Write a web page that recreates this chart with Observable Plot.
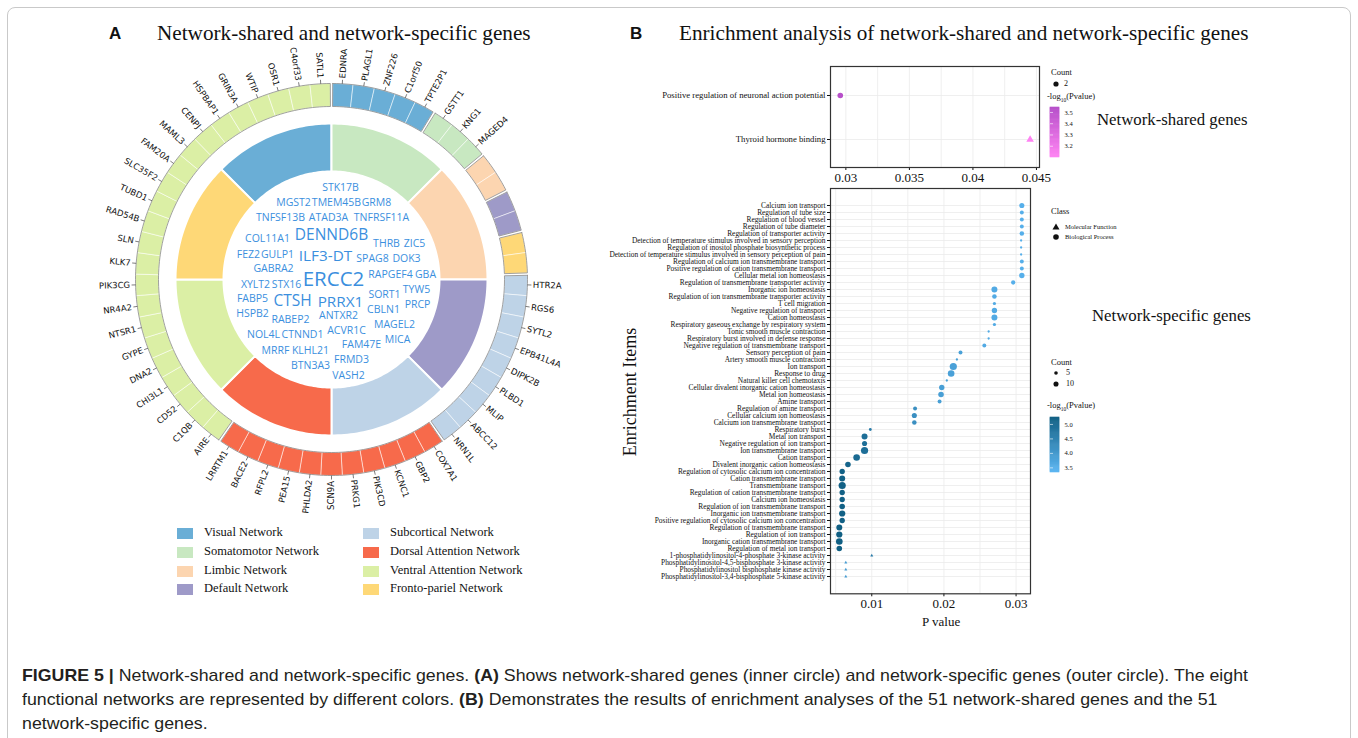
<!DOCTYPE html>
<html><head><meta charset="utf-8">
<script src="https://cdn.jsdelivr.net/npm/d3@7"></script>
<script src="https://cdn.jsdelivr.net/npm/@observablehq/plot@0.6"></script>
<style>
body{margin:0;background:#fff;width:1358px;height:738px;overflow:hidden;position:relative;font-family:"Liberation Serif",serif;color:#111}
.abs{position:absolute;white-space:nowrap}
.serif{font-family:"Liberation Serif",serif}
.cap span.l{display:block;transform-origin:0 50%;white-space:nowrap}
</style></head><body>
<div class="abs" style="left:7px;top:7px;width:1342px;height:760px;border:1px solid #c9c9c9;border-radius:8px"></div>
<div class="abs" style="left:109px;top:24px;font:bold 17px 'Liberation Sans',sans-serif">A</div>
<div class="abs serif" style="left:157px;top:21px;font-size:21.2px">Network-shared and network-specific genes</div>
<div class="abs" style="left:630px;top:24px;font:bold 17px 'Liberation Sans',sans-serif">B</div>
<div class="abs serif" style="left:679px;top:21px;font-size:21.2px">Enrichment analysis of network-shared and network-specific genes</div>
<div id="legA"></div>
<div id="legB"></div>
<div class="abs cap" id="cap" style="left:22px;top:664px;font:17px 'Liberation Sans',sans-serif;line-height:24px;color:#231f20">
<span class="l"><b>FIGURE 5 |</b> Network-shared and network-specific genes. <b>(A)</b> Shows network-shared genes (inner circle) and network-specific genes (outer circle). The eight</span>
<span class="l">functional networks are represented by different colors. <b>(B)</b> Demonstrates the results of enrichment analyses of the 51 network-shared genes and the 51</span>
<span class="l">network-specific genes.</span>
</div>
<script>
// ---------------- DATA ----------------
const networkNames = ["Visual Network","Somatomotor Network","Limbic Network","Default Network","Subcortical Network","Dorsal Attention Network","Ventral Attention Network","Fronto-pariel Network"];
const networkColors = ["#6aaed6","#c8e8c1","#fcd5b0","#9e9ac8","#bed3e7","#f76a4b","#dbefa5","#fed877"];
const legendOrder = ["Visual Network","Somatomotor Network","Limbic Network","Default Network","Subcortical Network","Dorsal Attention Network","Ventral Attention Network","Fronto-pariel Network"];

// inner ring (network-shared): one equal sector per network, clockwise
const innerOrder = ["Visual Network","Somatomotor Network","Limbic Network","Default Network","Subcortical Network","Dorsal Attention Network","Ventral Attention Network","Fronto-pariel Network"];

// outer ring (network-specific genes), clockwise from top
const outerOrder = ["Visual Network","Somatomotor Network","Limbic Network","Default Network","Fronto-pariel Network","Subcortical Network","Dorsal Attention Network","Ventral Attention Network"];
const outerCellCounts = [5,3,2,2,2,9,11,23];
const visualGenes = ["EDNRA","PLAGL1","ZNF226","C1orf50","TPTE2P1"];
const somatomotorGenes = ["GSTT1","KNG1","MAGED4"];
const limbicGenes = ["",""];
const defaultGenes = ["",""];
const frontoGenes = ["",""];
const subcorticalGenes = ["HTR2A","RGS6","SYTL2","EPB41L4A","DIPK2B","PLBD1","MLIP","ABCC12","NRN1L"];
const dorsalGenes = ["COX7A1","GBP2","KCNC1","PIK3CD","PRKG1","SCN9A","PHLDA2","PEA15","RFPL2","BACE2","LRRTM1"];
const ventralGenes = ["AIRE","C1QB","CD52","CHI3L1","DNA2","GYPE","NTSR1","NR4A2","PIK3CG","KLK7","SLN","RAD54B","TUBD1","SLC35F2","FAM20A","MAML3","CENPJ","HSPBAP1","GRIN3A","WTIP","OSR1","C4orf33","SATL1"];
const outerGenes = [visualGenes,somatomotorGenes,limbicGenes,defaultGenes,frontoGenes,subcorticalGenes,dorsalGenes,ventralGenes];

// word cloud of network-shared genes (weight = emphasis)
const cloudWords = ["STK17B","MGST2","TMEM45B","GRM8","TNFSF13B","ATAD3A","TNFRSF11A","COL11A1","DENND6B","THRB","ZIC5","FEZ2","GULP1","ILF3-DT","SPAG8","DOK3","GABRA2","ERCC2","RAPGEF4","GBA","XYLT2","STX16","TYW5","FABP5","CTSH","PRRX1","SORT1","PRCP","HSPB2","RABEP2","ANTXR2","CBLN1","MAGEL2","NOL4L","CTNND1","ACVR1C","MICA","FAM47E","MRRF","KLHL21","BTN3A3","FRMD3","VASH2"];
const cloudWeights = [1,1,1,1,1,1,1,1,3,1,1,1,1,2,1,1,1,5,1,1,1,1,1,1,3,2,1,1,1,1,1,1,1,1,1,1,1,1,1,1,1,1,1];

// panel B, network-shared enrichment
const sharedTerms = ["Positive regulation of neuronal action potential","Thyroid hormone binding"];
const sharedP = [0.02956,0.0445];
const sharedCount = [2,2];
const sharedLogP = [3.54,3.1];
const sharedClass = ["Biological Process","Molecular Function"];

// panel B, network-specific enrichment
const specificTerms = ["Calcium ion transport","Regulation of tube size","Regulation of blood vessel","Regulation of tube diameter","Regulation of transporter activity","Detection of temperature stimulus involved in sensory perception","Regulation of inositol phosphate biosynthetic process","Detection of temperature stimulus involved in sensory perception of pain","Regulation of calcium ion transmembrane transport","Positive regulation of cation transmembrane transport","Cellular metal ion homeostasis","Regulation of transmembrane transporter activity","Inorganic ion homeostasis","Regulation of ion transmembrane transporter activity","T cell migration","Negative regulation of transport","Cation homeostasis","Respiratory gaseous exchange by respiratory system","Tonic smooth muscle contraction","Respiratory burst involved in defense response","Negative regulation of transmembrane transport","Sensory perception of pain","Artery smooth muscle contraction","Ion transport","Response to drug","Natural killer cell chemotaxis","Cellular divalent inorganic cation homeostasis","Metal ion homeostasis","Amine transport","Regulation of amine transport","Cellular calcium ion homeostasis","Calcium ion transmembrane transport","Respiratory burst","Metal ion transport","Negative regulation of ion transport","Ion transmembrane transport","Cation transport","Divalent inorganic cation homeostasis","Regulation of cytosolic calcium ion concentration","Cation transmembrane transport","Transmembrane transport","Regulation of cation transmembrane transport","Calcium ion homeostasis","Regulation of ion transmembrane transport","Inorganic ion transmembrane transport","Positive regulation of cytosolic calcium ion concentration","Regulation of transmembrane transport","Regulation of ion transport","Inorganic cation transmembrane transport","Regulation of metal ion transport","1-phosphatidylinositol-4-phosphate 3-kinase activity","Phosphatidylinositol-4,5-bisphosphate 3-kinase activity","Phosphatidylinositol bisphosphate kinase activity","Phosphatidylinositol-3,4-bisphosphate 5-kinase activity"];
const specificP = [0.0308,0.0308,0.0308,0.0308,0.0308,0.0307,0.0307,0.0307,0.0308,0.0308,0.0308,0.0296,0.0270,0.0270,0.0270,0.0270,0.0270,0.0270,0.0262,0.0262,0.0256,0.0223,0.0218,0.0213,0.0210,0.0204,0.0197,0.0196,0.0194,0.0160,0.0159,0.0159,0.0098,0.0090,0.0090,0.0090,0.0079,0.0067,0.0059,0.0059,0.0059,0.0059,0.0059,0.0059,0.0059,0.0059,0.0055,0.0055,0.0055,0.0055,0.0100,0.0064,0.0064,0.0064];
const specificCount = [10,6,6,6,8,2,2,2,6,6,11,7,14,8,4,11,14,4,2,2,6,6,2,20,17,2,11,12,6,6,10,8,3,14,10,20,17,12,11,14,20,11,11,12,15,11,14,15,17,12,2,2,2,2];
const specificLogP = [3.5,3.5,3.5,3.5,3.5,3.5,3.5,3.5,3.5,3.5,3.5,3.5,3.6,3.6,3.6,3.6,3.6,3.6,3.6,3.6,3.6,3.8,3.8,3.8,3.8,3.8,3.85,3.85,3.85,4.2,4.2,4.2,4.6,4.9,4.9,4.9,5.0,5.1,5.2,5.2,5.2,5.2,5.2,5.2,5.2,5.2,5.25,5.25,5.25,5.25,4.6,3.9,3.9,3.9];
const specificClass = specificTerms.map((t,i)=> i>=50 ? "Molecular Function" : "Biological Process");

// ---------------- LAYOUT (not data) ----------------
const R_IN0=108, R_IN1=156, R_OUT0=173, R_OUT1=196;
const cloudLayout = [[9,-92],[-38,-77],[5,-77],[45,-77],[-51,-62],[-3,-62],[50,-62],[-64,-41],[0,-44.5],[55,-36],[83,-36],[-83,-25],[-54,-25],[-6,-23.5],[41,-21],[75,-21],[-58,-11],[2,-0.5],[59,-5],[94,-5],[-76,5],[-45,5],[85,10],[-79,19],[-39,22],[9,22.5],[53,15],[86,25],[-79,34],[-41,40],[7,36.5],[52,30],[63,45],[-68,55],[-29,55],[15,51],[66,60],[30,65],[-56,71],[-21,71],[-21,86],[20,80],[17,96]];
const weightSize = {1:10.5, 2:15.3, 3:15.5, 5:20.5};

// ---------------- GEOMETRY ----------------
const rad = a => a*Math.PI/180;
const pt = (a,r) => [r*Math.sin(rad(a)), -r*Math.cos(rad(a))];
function arcPoly(a0,a1,r0,r1,id,net){
  const n = Math.max(2, Math.ceil((a1-a0)/1.2)); const p=[];
  for(let i=0;i<=n;i++) p.push(pt(a0+(a1-a0)*i/n, r1));
  for(let i=n;i>=0;i--) p.push(pt(a0+(a1-a0)*i/n, r0));
  p.push(p[0]);
  return p.map(([x,y])=>({x,y,id,net}));
}
const innerPts = innerOrder.flatMap((net,i)=>arcPoly(-45+i*45,-45+(i+1)*45,R_IN0,R_IN1,"in"+i,net));
const totalCells = d3.sum(outerCellCounts);
const cellA = 360/totalCells;
const outerPts=[], blockPts=[], labelData=[];
let c=0;
outerOrder.forEach((net,k)=>{
  const n=outerCellCounts[k];
  const b0=c*cellA+0.35, b1=(c+n)*cellA-0.35;
  blockPts.push(...arcPoly(b0,b1,R_OUT0,R_OUT1,"b"+k,net));
  for(let j=0;j<n;j++){
    const a0=Math.max(b0,(c+j)*cellA), a1=Math.min(b1,(c+j+1)*cellA);
    outerPts.push(...arcPoly(a0,a1,R_OUT0,R_OUT1,"c"+k+"_"+j,net));
    const g=outerGenes[k][j];
    if(g){
      const a=(c+j+0.5)*cellA;
      const [x1,y1]=pt(a,R_OUT1), [x2,y2]=pt(a,R_OUT1+4), [tx,ty]=pt(a,R_OUT1+5.5);
      const right = a<180;
      labelData.push({gene:g,x1,y1,x2,y2,tx,ty,right,rot: right ? a-90 : a-270});
    }
  }
  c+=n;
});
const cloud = cloudWords.map((w,i)=>({word:w,x:cloudLayout[i][0],y:cloudLayout[i][1],size:weightSize[cloudWeights[i]]}));

function place(el,left,top){const d=document.createElement("div");d.className="abs";d.style.left=left+"px";d.style.top=top+"px";d.appendChild(el);document.body.appendChild(d);return d;}

// ---------------- PANEL A ----------------
const A = Plot.plot({
  width:540,height:540,margin:0,
  x:{domain:[-270,270],axis:null},
  y:{domain:[270,-270],axis:null},
  color:{domain:networkNames,range:networkColors},
  style:{background:"transparent",overflow:"visible"},
  marks:[
    Plot.line(innerPts,{x:"x",y:"y",z:"id",fill:"net",stroke:"white",strokeWidth:2}),
    Plot.line(outerPts,{x:"x",y:"y",z:"id",fill:"net",stroke:"white",strokeWidth:0.7,strokeOpacity:0.75}),
    Plot.line(blockPts,{x:"x",y:"y",z:"id",stroke:"#8a8a8a",strokeWidth:0.8}),
    Plot.link(labelData,{x1:"x1",y1:"y1",x2:"x2",y2:"y2",stroke:"#444",strokeWidth:0.7}),
    Plot.text(labelData.filter(d=>d.right),{x:"tx",y:"ty",text:"gene",rotate:"rot",textAnchor:"start",fontSize:8.5,fontFamily:"DejaVu Sans",fill:"#111"}),
    Plot.text(labelData.filter(d=>!d.right),{x:"tx",y:"ty",text:"gene",rotate:"rot",textAnchor:"end",fontSize:8.5,fontFamily:"DejaVu Sans",fill:"#111"}),
    Plot.text(cloud,{x:"x",y:"y",text:"word",fontSize:"size",fill:"#3b8fde",fontFamily:"Open Sans"})
  ]
});
place(A,61,9);

// legend A
const legA=document.getElementById("legA");
legendOrder.forEach((n,i)=>{
  const col=i<4?0:1, row=i%4;
  const left=col?363:177, top=528+row*18.8;
  legA.insertAdjacentHTML("beforeend",`<div class="abs" style="left:${left}px;top:${top}px;width:16px;height:11px;background:${networkColors[networkNames.indexOf(n)]}"></div><div class="abs serif" style="left:${left+27}px;top:${top-3}px;font-size:12.5px">${n}</div>`);
});

// ---------------- PANEL B ----------------
const serifStyle = fs => ({background:"transparent",overflow:"visible",fontFamily:"Liberation Serif",fontSize:fs,color:"#111"});
const sharedRows = sharedTerms.map((t,i)=>({term:t,p:sharedP[i],count:sharedCount[i],logp:sharedLogP[i],cls:sharedClass[i]}));
const B1 = Plot.plot({
  width:410,height:135,marginLeft:190,marginRight:11,marginTop:10,marginBottom:24,
  x:{domain:[0.02879,0.04524],ticks:[0.03,0.035,0.04,0.045],tickFormat:d=>String(+d.toFixed(3)),tickSize:3,tickPadding:2,label:null},
  y:{type:"point",domain:sharedTerms,padding:0.63,tickSize:3,tickPadding:2,label:null},
  color:{type:"linear",domain:[3.1,3.544],range:["#ff82f3","#b64fc9"]},
  r:{type:"sqrt",domain:[0,2],range:[0,2.8]},
  symbol:{domain:["Molecular Function","Biological Process"],range:["triangle","circle"]},
  style:serifStyle("8.7px"),
  marks:[
    Plot.ruleX([0.03,0.0325,0.035,0.0375,0.04,0.0425,0.045],{stroke:"#ebebeb",strokeWidth:0.8}),
    Plot.ruleY(sharedTerms,{stroke:"#ebebeb",strokeWidth:0.8}),
    Plot.dot(sharedRows,{x:"p",y:"term",r:"count",fill:"logp",symbol:"cls",stroke:null}),
    Plot.frame({stroke:"#333",strokeWidth:1.2})
  ]
});
place(B1,640,56);

const specRows = specificTerms.map((t,i)=>({term:t,p:specificP[i],count:specificCount[i],logp:specificLogP[i],cls:specificClass[i]}));
const B2 = Plot.plot({
  width:440,height:436,marginLeft:230,marginRight:10,marginTop:10,marginBottom:20.7,
  x:{domain:[0.00428,0.0320],ticks:[0.01,0.02,0.03],tickFormat:d=>String(+d.toFixed(2)),tickSize:3,tickPadding:2,label:null},
  y:{type:"point",domain:specificTerms,padding:0.72,tickSize:3,tickPadding:2,label:null},
  color:{type:"linear",domain:[3.34,5.24],range:["#5cb6f3","#105f84"]},
  r:{type:"sqrt",domain:[0,20],range:[0,3.6]},
  symbol:{domain:["Molecular Function","Biological Process"],range:["triangle","circle"]},
  style:serifStyle("7.4px"),
  marks:[
    Plot.ruleX([0.005,0.01,0.015,0.02,0.025,0.03],{stroke:"#ebebeb",strokeWidth:0.8}),
    Plot.ruleY(specificTerms,{stroke:"#ebebeb",strokeWidth:0.8}),
    Plot.dot(specRows,{x:"p",y:"term",r:"count",fill:"logp",symbol:"cls",stroke:null}),
    Plot.frame({stroke:"#333",strokeWidth:1.2})
  ]
});
place(B2,600,178);
[B1,B2].forEach(s=>s.querySelectorAll('[aria-label^="x-axis"] text').forEach(t=>{t.style.fontSize="13px";}));
[B1,B2].forEach(s=>s.querySelectorAll('[aria-label^="y-axis"] text').forEach(t=>{t.setAttribute("fill","#111");}));

// colour bars
function colorBar(domain,range,ticks,h){
  const n=60, step=(domain[1]-domain[0])/n;
  const slices=d3.range(n).map(i=>({y1:domain[0]+i*step,y2:domain[0]+(i+1)*step,v:domain[0]+(i+0.5)*step}));
  return Plot.plot({
    width:31,height:h,marginLeft:0,marginRight:22,marginTop:0,marginBottom:0,
    x:{domain:[0,1],axis:null},
    y:{domain,axis:"right",ticks,tickFormat:d=>d.toFixed(1),tickSize:0,tickPadding:5,label:null},
    color:{type:"linear",domain,range},
    style:{background:"transparent",overflow:"visible",fontFamily:"Liberation Serif",fontSize:"6.5px"},
    marks:[
      Plot.rect(slices,{x1:0,x2:1,y1:"y1",y2:"y2",fill:"v",stroke:"v",strokeWidth:0.6}),
      Plot.tickY(ticks,{y:d=>d,stroke:"white",strokeWidth:0.6,insetLeft:0,insetRight:6})
    ]
  });
}
place(colorBar([3.1,3.544],["#ff82f3","#b64fc9"],[3.2,3.3,3.4,3.5],50),1050,107);
place(colorBar([3.34,5.24],["#5cb6f3","#105f84"],[3.5,4.0,4.5,5.0],55),1050,417);

const legB=document.getElementById("legB");
const t=(x,y,s,fs)=>legB.insertAdjacentHTML("beforeend",`<div class="abs serif" style="left:${x}px;top:${y}px;font-size:${fs}px;line-height:1">${s}</div>`);
const sym=(x,y,shape,r)=>{
  const inner = shape==="circle" ? `<circle cx="6" cy="6" r="${r}" fill="#111"/>` : `<path d="${d3.symbol(d3.symbolTriangle, Math.PI*r*r)()}" transform="translate(6,6.5)" fill="#111"/>`;
  legB.insertAdjacentHTML("beforeend",`<svg class="abs" style="left:${x-6}px;top:${y-6}px" width="12" height="12">${inner}</svg>`);
};
t(1051,68,"Count",8.5); sym(1056,84,"circle",2.6); t(1064,80,"2",8);
t(1047,92,"-log<sub style='font-size:5.5px'>10</sub>(Pvalue)",8.5);
t(1097,112,"Network-shared genes",16.8);
t(1051,207,"Class",8.5);
sym(1056,227,"triangle",2.6); t(1065,224,"Molecular Function",6.5);
sym(1056,237,"circle",2.8); t(1065,234,"Biological Process",6.5);
t(1092,308,"Network-specific genes",16.8);
t(1051,358,"Count",8.5); sym(1056,373,"circle",1.8); t(1066,369,"5",8); sym(1056,384,"circle",2.55); t(1066,380,"10",8);
t(1047,401,"-log<sub style='font-size:5.5px'>10</sub>(Pvalue)",8.5);
t(922,615,"P value",13);
legB.insertAdjacentHTML("beforeend",`<div class="abs serif" style="left:630px;top:392px;font-size:18px;transform:translate(-50%,-50%) rotate(-90deg)">Enrichment Items</div>`);

// caption line widths (condensed face as in the reference)
const spans=document.querySelectorAll("#cap span.l");
spans.forEach(s=>s.style.display="inline-block");
const w0=spans[0].getBoundingClientRect().width, k=1226/w0;
spans.forEach(s=>{s.style.transform=`scaleX(${k})`;s.style.display="block";});
</script>
</body></html>
